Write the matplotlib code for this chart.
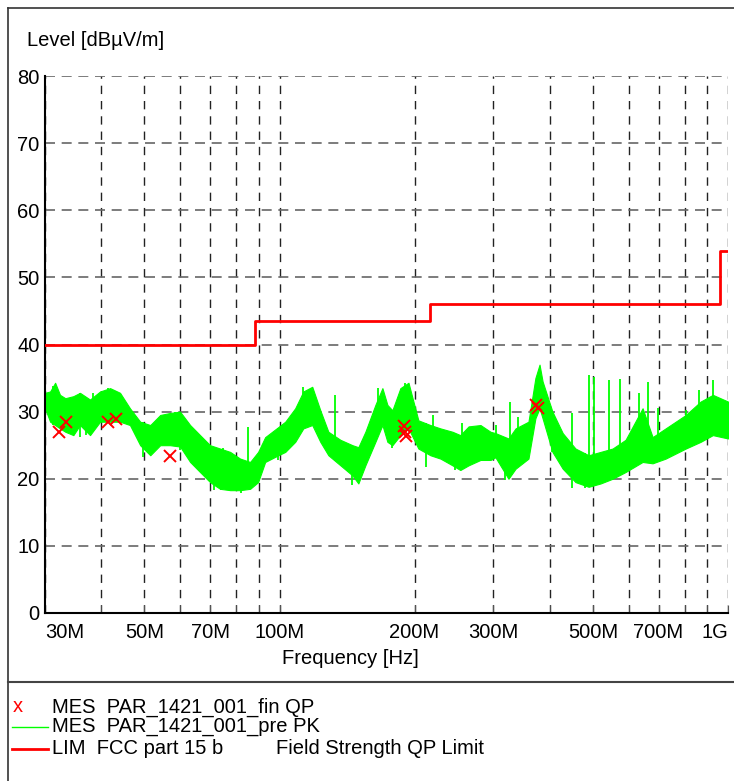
import numpy as np
import matplotlib
matplotlib.use('Agg')
import matplotlib.pyplot as plt
from matplotlib.lines import Line2D
from matplotlib.ticker import FixedLocator, NullFormatter

plt.rcParams['font.family'] = ['Liberation Sans', 'DejaVu Sans']

pk_freq = [30, 30.8, 31.6, 32.4, 33.3, 34.7, 35.9, 37.8, 39.8, 41.9, 44.1, 46.4,
           48.9, 51.5, 54.2, 57.0, 60.0, 63.2, 66.5, 70.0, 73.7, 77.6, 81.7, 86.0,
           89.6, 92.9, 99.4, 103, 108.4, 113, 118.3, 123.3, 128.5, 136.7, 145.4,
           149.9, 155.4, 163.6, 169.6, 174, 178.5, 186, 193.9, 204, 217, 228.5,
           243, 253, 264, 280.6, 295.4, 303, 324, 336, 359, 372, 380, 386, 406,
           428, 457, 489, 520, 553, 591, 645, 679, 726, 805, 869, 925, 1000]
pk_lo = [30.5, 28.5, 28.0, 27.5, 27.0, 26.5, 28.0, 26.5, 28.5, 28.5, 28.5, 28.0,
         25.0, 23.5, 25.0, 25.0, 24.8, 22.5, 21.0, 19.5, 18.5, 18.3, 18.3, 18.5,
         19.5, 22.5, 23.5, 24.0, 25.5, 27.5, 28.0, 25.5, 23.5, 22.0, 20.5,
         19.3, 22.0, 25.5, 28.0, 25.5, 25.0, 26.5, 27.5, 24.5, 23.5, 23.0,
         22.0, 21.3, 22.0, 22.8, 22.8, 23.2, 20.0, 21.5, 23.0, 29.0, 30.5, 29.0, 24.0,
         21.5, 19.5, 18.8, 19.3, 20.0, 21.0, 22.5, 22.3, 23.0, 24.5, 25.5, 26.5, 26.0]
pk_hi = [32.8, 33.0, 34.3, 32.5, 32.0, 32.3, 32.8, 31.8, 33.0, 33.5, 32.8, 30.5,
         28.5, 28.0, 29.5, 29.8, 30.0, 28.0, 26.5, 25.0, 24.5, 24.0, 23.0, 22.5,
         24.0, 26.2, 27.7, 28.5, 30.5, 33.0, 33.7, 30.2, 27.0, 25.8, 25.0,
         24.7, 27.0, 31.0, 33.5, 31.0, 30.2, 33.5, 34.3, 28.7, 28.0, 27.5,
         27.0, 26.5, 27.8, 28.0, 27.0, 26.8, 26.0, 27.5, 28.5, 35.0, 37.0, 34.5, 30.0,
         26.8, 24.5, 23.5, 24.0, 24.5, 25.8, 30.5, 26.2, 27.5, 29.5, 31.5, 32.5, 31.5]

# narrow spikes sticking out above the band
spike_up_freq = [38.3, 41.5, 43.2, 58.6, 74.7, 85.0, 113, 133, 166, 190, 220, 255,
                 282, 304, 326, 340, 406, 450, 489, 503, 542, 574, 632, 663, 699,
                 805, 860, 925]
spike_up_lvl = [32.8, 33.5, 33.0, 30.0, 24.6, 27.7, 33.7, 32.5, 33.5, 34.3, 29.5, 28.3,
                27.3, 28.0, 31.4, 29.2, 29.2, 29.8, 35.5, 35.2, 34.7, 34.9, 32.8, 34.4, 30.5,
                30.2, 33.2, 34.7]
# and dips below it
spike_dn_freq = [31.3, 35.9, 37.0, 49.5, 60.0, 71.5, 74.0, 82.0, 99.0, 145, 178,
                 212, 246, 318, 450, 480]
spike_dn_lvl = [28.0, 26.2, 26.5, 23.2, 24.3, 18.3, 18.3, 17.9, 22.8, 19.1, 24.6,
                21.8, 21.3, 19.8, 18.6, 18.6]

# final QP measurements
qp_freq = [32.3, 33.4, 41.5, 43.2, 57.0, 189.5, 190.5, 191.0, 374, 377]
qp_lvl = [27.0, 28.5, 28.4, 28.9, 23.4, 27.9, 27.0, 26.4, 31.0, 30.6]

# FCC part 15 class B limit
lim_edges = [30, 88, 216, 960, 1000]
lim_lvl = [40, 43.5, 46, 54]

xticks_major = [30, 50, 70, 100, 200, 300, 500, 700, 1000]
xtick_labels = ['30M', '50M', '70M', '100M', '200M', '300M', '500M', '700M', '1G']
xticks_minor = [40, 60, 80, 90, 400, 600, 800, 900]
yticks = list(range(0, 81, 10))

W, H = 734, 781
fig = plt.figure(figsize=(W / 100, H / 100), dpi=100)
ax = fig.add_axes([45 / W, 1 - 613 / H, 683 / W, 537 / H])

green = '#00ff00'
logf = np.log10(pk_freq)
ax.fill_between(pk_freq, pk_lo, pk_hi, color=green, lw=0.8, zorder=2)
up_base = np.interp(np.log10(spike_up_freq), logf, pk_lo)
ax.vlines(spike_up_freq, up_base, spike_up_lvl, color=green, lw=1.3, zorder=2)
dn_top = np.interp(np.log10(spike_dn_freq), logf, pk_hi)
ax.vlines(spike_dn_freq, spike_dn_lvl, dn_top, color=green, lw=1.3, zorder=2)

ax.step(lim_edges, lim_lvl + [lim_lvl[-1]], where='post', color='red', lw=2, zorder=3)
ax.plot(qp_freq, qp_lvl, 'x', color='red', ms=8, mew=1.4, zorder=4)

ax.set_xscale('log')
ax.set_xlim(30, 1000)
ax.set_ylim(0, 80)
ax.xaxis.set_major_locator(FixedLocator(xticks_major))
ax.xaxis.set_minor_locator(FixedLocator(xticks_minor))
ax.xaxis.set_minor_formatter(NullFormatter())
ax.set_xticklabels(xtick_labels)
ax.set_yticks(yticks)

ax.set_axisbelow(True)
ax.xaxis.grid(True, which='both', color='#222222', ls=(0, (6, 5)), lw=1)
ax.yaxis.grid(True, color='#666666', ls=(0, (6, 4)), lw=1.2)

for s in ['top', 'right']:
    ax.spines[s].set_visible(False)
for s in ['left', 'bottom']:
    ax.spines[s].set_color('black')
    ax.spines[s].set_linewidth(1.5)

fs = 14.5
ax.tick_params(axis='x', which='both', direction='in', length=6, color='#555555',
               labelsize=fs, pad=7)
ax.tick_params(axis='y', length=0, labelsize=fs, pad=4)
labels = ax.get_xticklabels()
labels[0].set_ha('left')
labels[-1].set_ha('right')

fig.text(27 / W, 1 - 40 / H, 'Level [dBµV/m]', va='center', fontsize=fs)
fig.text(350 / W, 1 - 658 / H, 'Frequency [Hz]', ha='center', va='center', fontsize=fs)

# outer frame and legend separator
fig.add_artist(Line2D([8 / W, 8 / W], [0, 1 - 8 / H], color='#333333', lw=1.2))
fig.add_artist(Line2D([8 / W, 1], [1 - 8 / H, 1 - 8 / H], color='#333333', lw=1.2))
fig.add_artist(Line2D([8 / W, 1], [1 - 682 / H, 1 - 682 / H], color='#444444', lw=1.5))

# legend
rows = [707, 727, 749]
fig.text(18 / W, 1 - rows[0] / H, 'x', color='red', ha='center', va='center', fontsize=fs)
fig.add_artist(Line2D([12 / W, 48 / W], [1 - rows[1] / H] * 2, color=green, lw=1))
fig.add_artist(Line2D([12 / W, 48 / W], [1 - rows[2] / H] * 2, color='red', lw=2))
fig.text(52 / W, 1 - rows[0] / H, 'MES  PAR_1421_001_fin QP', va='center', fontsize=fs)
fig.text(52 / W, 1 - rows[1] / H, 'MES  PAR_1421_001_pre PK', va='center', fontsize=fs)
fig.text(52 / W, 1 - rows[2] / H, 'LIM  FCC part 15 b', va='center', fontsize=fs)
fig.text(276 / W, 1 - rows[2] / H, 'Field Strength QP Limit', va='center', fontsize=fs)

fig.savefig('out.png', dpi=100)
